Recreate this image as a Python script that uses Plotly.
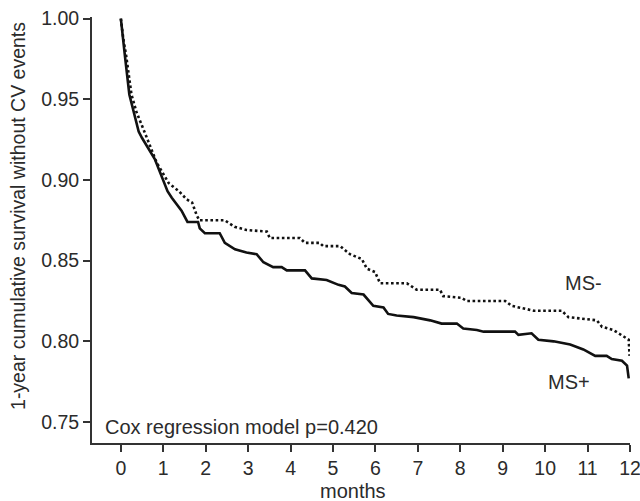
import plotly.graph_objects as go

# MS+ (solid) survival curve
ms_plus_months = [0, 0.05, 0.1, 0.2, 0.3, 0.42, 0.5, 0.8, 1.1, 1.2, 1.43, 1.57, 1.82, 1.86, 1.98,
                  2.33, 2.45, 2.69, 2.96, 3.2, 3.36, 3.59, 3.79, 3.91, 4.34, 4.5, 4.85, 5.13, 5.28,
                  5.44, 5.72, 5.95, 6.19, 6.3, 6.5, 6.9, 7.29, 7.56, 7.92, 8.07, 8.39, 8.55, 9.29,
                  9.37, 9.68, 9.84, 10.2, 10.59, 10.9, 11.18, 11.45, 11.57, 11.81, 11.93, 11.97]
ms_plus_surv = [1.0, 0.987, 0.976, 0.953, 0.942, 0.930, 0.926, 0.913, 0.893, 0.889, 0.881, 0.874,
                0.874, 0.870, 0.867, 0.867, 0.861, 0.857, 0.855, 0.854, 0.849, 0.846, 0.846, 0.844,
                0.844, 0.839, 0.838, 0.835, 0.834, 0.830, 0.829, 0.822, 0.821, 0.817, 0.816, 0.815,
                0.813, 0.811, 0.811, 0.808, 0.807, 0.806, 0.806, 0.804, 0.805, 0.801, 0.800, 0.798,
                0.795, 0.791, 0.791, 0.789, 0.788, 0.785, 0.777]

# MS- (dotted) survival curve
ms_minus_months = [0, 0.06, 0.12, 0.25, 0.37, 0.5, 0.6, 0.84, 1.13, 1.37, 1.55, 1.68, 1.79, 1.85,
                   2.45, 2.68, 2.96, 3.44, 3.51, 4.22, 4.34, 4.69, 4.77, 5.17, 5.4, 5.68, 5.8,
                   5.99, 6.11, 6.74, 6.97, 7.52, 7.6, 8.03, 8.15, 9.06, 9.21, 9.73, 10.39, 10.55,
                   11.22, 11.34, 11.61, 11.85, 11.97, 11.99]
ms_minus_surv = [1.0, 0.987, 0.978, 0.953, 0.942, 0.933, 0.927, 0.911, 0.898, 0.893, 0.888, 0.886,
                 0.878, 0.875, 0.875, 0.871, 0.869, 0.868, 0.864, 0.864, 0.861, 0.861, 0.859, 0.859,
                 0.854, 0.851, 0.845, 0.843, 0.836, 0.836, 0.832, 0.832, 0.828, 0.827, 0.825, 0.825,
                 0.822, 0.819, 0.819, 0.815, 0.813, 0.809, 0.807, 0.803, 0.801, 0.791]

x_ticks = list(range(0, 13))
y_ticks = [0.75, 0.80, 0.85, 0.90, 0.95, 1.00]
y_tick_labels = ["0.75", "0.80", "0.85", "0.90", "0.95", "1.00"]

FONT = "Liberation Sans, Arial, sans-serif"
TXT = "#2b2b2b"
AX = "#333333"

fig = go.Figure()
fig.add_trace(go.Scatter(x=ms_minus_months, y=ms_minus_surv, mode="lines",
                         line=dict(color="#111111", width=2.6, dash="2.6px,2.6px"),
                         showlegend=False))
fig.add_trace(go.Scatter(x=ms_plus_months, y=ms_plus_surv, mode="lines",
                         line=dict(color="#111111", width=2.6), showlegend=False))

fig.update_layout(
    template="none",
    width=640, height=501,
    margin=dict(l=92, r=10, t=17, b=58, autoexpand=False),
    plot_bgcolor="white", paper_bgcolor="white",
    font=dict(family=FONT, size=19.5, color=TXT),
    xaxis=dict(range=[-0.68, 12.0], tickvals=x_ticks, showline=True, linecolor=AX, linewidth=2,
               ticks="outside", ticklen=7, tickwidth=2, tickcolor=AX, showgrid=False,
               zeroline=False, automargin=False, ticklabeloverflow="allow",
               tickfont=dict(size=19.5, color=TXT)),
    yaxis=dict(range=[0.737, 1.001], tickvals=y_ticks, ticktext=y_tick_labels, showline=True,
               linecolor=AX, linewidth=2, ticks="outside", ticklen=7, tickwidth=2, tickcolor=AX,
               showgrid=False, zeroline=False, automargin=False,
               tickfont=dict(size=19.5, color=TXT)),
    annotations=[
        dict(text="MS-", x=10.9, y=0.836, xref="x", yref="y", showarrow=False,
             xanchor="center", yanchor="middle", font=dict(size=20, color=TXT)),
        dict(text="MS+", x=10.57, y=0.775, xref="x", yref="y", showarrow=False,
             xanchor="center", yanchor="middle", font=dict(size=20, color=TXT)),
        dict(text="Cox regression model p=0.420", x=-0.42, y=0.747, xref="x", yref="y",
             xanchor="left", yanchor="middle", showarrow=False, font=dict(size=20, color=TXT)),
        dict(text="months", x=0.485, y=-0.112, xref="paper", yref="paper", showarrow=False,
             xanchor="center", yanchor="middle", font=dict(size=20, color=TXT)),
        dict(text="1-year cumulative survival without CV events", x=-0.1375, y=0.533,
             xref="paper", yref="paper", textangle=-90, showarrow=False,
             xanchor="center", yanchor="middle", font=dict(size=19.5, color=TXT)),
    ],
)

fig.write_html("out.html", config={"displayModeBar": False},
               post_script="document.body.style.margin='0';")
